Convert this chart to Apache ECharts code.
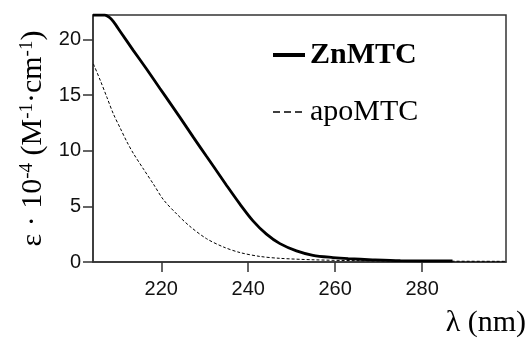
<!DOCTYPE html>
<html>
<head>
    <meta charset="utf-8">
    <title>ECharts</title>
    <script src="https://cdn.jsdelivr.net/npm/echarts@6/dist/echarts.min.js"></script>
</head>
<body style="margin:0">
    <div id="main" style="width:529px;height:338px;"></div>
    <script type="text/javascript">
        // wavelengths (nm) and epsilon values (10^4 M-1 cm-1)
        var znWl  = [204.3, 205.5, 207.0, 208.0, 209.0, 210.6, 213.6, 216.7, 219.7, 222.0, 224.3, 227.4, 230.4, 232.0, 235.0, 238.1, 241.1, 244.2, 247.3, 251.1, 254.9, 259.5, 263.0, 268.6, 275.0, 287.0];
        var znEps = [22.2, 22.2, 22.2, 22.0, 21.6, 20.7, 19.0, 17.3, 15.6, 14.3, 13.0, 11.2, 9.5, 8.6, 6.9, 5.2, 3.7, 2.5, 1.65, 1.0, 0.6, 0.4, 0.3, 0.2, 0.12, 0.1];

        var apoWl  = [204.4, 206.0, 207.5, 209.0, 210.6, 212.1, 213.6, 216.0, 218.2, 220.5, 223.6, 226.6, 230.4, 234.3, 238.1, 242.7, 247.3, 254.9, 265.0, 280.0, 299.3];
        var apoEps = [17.8, 16.3, 14.8, 13.3, 12.0, 10.8, 9.75, 8.3, 7.0, 5.6, 4.3, 3.2, 2.1, 1.35, 0.85, 0.5, 0.33, 0.2, 0.12, 0.08, 0.06];

        var xTicks = [220, 240, 260, 280];
        var yTicks = [0, 5, 10, 15, 20];

        function pairs(xs, ys) {
            var out = [];
            for (var i = 0; i < xs.length; i++) {
                out.push([xs[i], ys[i]]);
            }
            return out;
        }

        var myChart = echarts.init(document.getElementById('main'));
        var axisColor = '#333';
        var option = {
            animation: false,
            grid: {
                left: 93, top: 15, right: 22, bottom: 76,
                show: true,
                borderColor: axisColor,
                borderWidth: 1.5
            },
            legend: {
                orient: 'vertical',
                left: 266,
                top: 35,
                itemWidth: 32,
                itemHeight: 30,
                itemGap: 27,
                itemTextGap: 9,
                textStyle: {
                    fontFamily: 'Liberation Serif',
                    fontSize: 30,
                    color: '#000'
                },
                data: [
                    {
                        name: 'ZnMTC',
                        itemStyle: { color: 'rgba(0,0,0,0)', borderWidth: 0 },
                        lineStyle: { width: 4, color: '#000' },
                        textStyle: { fontWeight: 'bold' }
                    },
                    {
                        name: 'apoMTC',
                        itemStyle: { color: 'rgba(0,0,0,0)', borderWidth: 0 },
                        lineStyle: { width: 1.5, color: '#000', type: [7, 4] }
                    }
                ]
            },
            xAxis: {
                type: 'value',
                min: 204.3,
                max: 299.3,
                name: 'λ (nm)',
                nameLocation: 'end',
                nameGap: 20,
                nameTextStyle: {
                    fontFamily: 'Liberation Serif',
                    fontSize: 30,
                    color: '#000',
                    align: 'right',
                    verticalAlign: 'top',
                    padding: [46, 0, 0, 0]
                },
                splitLine: { show: false },
                axisLine: { lineStyle: { color: axisColor, width: 1.5 } },
                axisTick: { customValues: xTicks, length: 10, lineStyle: { color: axisColor, width: 1.5 } },
                axisLabel: {
                    customValues: xTicks,
                    margin: 17,
                    fontFamily: 'Liberation Sans',
                    fontSize: 20,
                    color: '#111'
                }
            },
            yAxis: {
                type: 'value',
                min: 0,
                max: 22.2,
                name: '{a|ε · 10}{s|-4}{a| (M}{s|-1}{a|·cm}{s|-1}{a|)}',
                nameLocation: 'middle',
                nameRotate: 90,
                nameGap: 45,
                nameTextStyle: {
                    rich: {
                        a: { fontFamily: 'Liberation Serif', fontSize: 30, color: '#000' },
                        s: { fontFamily: 'Liberation Serif', fontSize: 19, color: '#000', verticalAlign: 'top' }
                    }
                },
                splitLine: { show: false },
                axisLine: { show: true, lineStyle: { color: axisColor, width: 1.5 } },
                axisTick: { show: true, customValues: yTicks, length: 10, lineStyle: { color: axisColor, width: 1.5 } },
                axisLabel: {
                    customValues: yTicks,
                    margin: 12,
                    fontFamily: 'Liberation Sans',
                    fontSize: 20,
                    color: '#111'
                }
            },
            series: [{
                name: 'ZnMTC',
                type: 'line',
                symbol: 'none',
                smooth: 0.3,
                color: '#000',
                lineStyle: { color: '#000', width: 2.8 },
                data: pairs(znWl, znEps)
            }, {
                name: 'apoMTC',
                type: 'line',
                symbol: 'none',
                smooth: 0.3,
                color: '#000',
                lineStyle: { color: '#000', width: 1, type: [3, 2] },
                data: pairs(apoWl, apoEps)
            }]
        };
        myChart.setOption(option);
    </script>
</body>
</html>
